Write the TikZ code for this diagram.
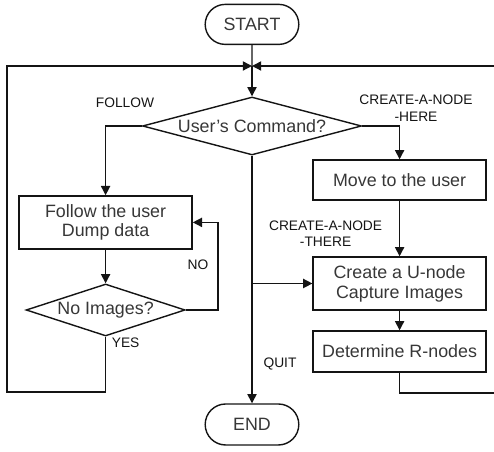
\documentclass[tikz,border=0pt]{standalone}
\usepackage{fontspec}
\setmainfont{Liberation Sans}
\definecolor{boxtext}{RGB}{55, 55, 55}
\definecolor{flowblack}{RGB}{20, 20, 20}
\usetikzlibrary{shapes.geometric, shapes.misc, arrows.meta, positioning, calc}
\tikzset{
  flowline/.style={line width=1pt, draw=flowblack},
  flowarrow/.style={flowline, -{Triangle[length=0.23cm, width=0.23cm]}},
  terminal/.style={rounded rectangle, draw=flowblack, line width=1pt, minimum width=2.575cm,
    minimum height=1cm, font=\fontsize{12.7}{14.2}\selectfont, text=boxtext},
  process/.style={rectangle, draw=flowblack, line width=1pt, minimum width=4.325cm, align=center,
    font=\fontsize{12.7}{14.2}\selectfont, text=boxtext},
  decision/.style={diamond, draw=flowblack, line width=1pt, inner sep=0pt,
    font=\fontsize{12.7}{14.2}\selectfont, text=boxtext},
  tag/.style={font=\fontsize{9.8}{11.7}\selectfont, align=center, text=flowblack}
}

\begin{document}
\begin{tikzpicture}
          \useasboundingbox (0, 0) rectangle (12.35, 11.3);
          % main column
          \node[terminal] (start) at (6.3, 10.69) {START};
          \coordinate (merge) at (6.3, 9.65);
          \node[decision, aspect=3.78, minimum width=5.475cm, minimum height=1.45cm] (cmd) at (6.3, 8.15) {User's Command?};
          \node[terminal, minimum height=1.025cm] (finish) at (6.3, 0.6875) {END};
          % left column
          \node[process, minimum height=1.325cm] (follow) at (2.64, 5.74) {Follow the user\\Dump data};
          \node[decision, aspect=3.06, minimum width=3.975cm, minimum height=1.3cm] (noimg) at (2.64, 3.55) {No Images?};
          % right column
          \node[process, minimum height=1cm] (move) at (9.99, 6.8) {Move to the user};
          \node[process, minimum height=1.325cm] (create) at (9.99, 4.2125) {Create a U-node\\Capture Images};
          \node[process, minimum height=1.025cm] (determine) at (9.99, 2.5125) {Determine R-nodes};
          % corners of the loops
          \coordinate (noloop) at (5.45, 5.74);
          \coordinate (yescorner) at (0.175, 1.5);
          \coordinate (backcorner) at (12.55, 1.475);

          \draw[flowline] (start) -- (merge);
          \draw[flowarrow] (merge) -- (cmd);
          \draw[flowarrow] (cmd.west) -| (follow.north);
          \draw[flowarrow] (follow) -- (noimg);
          \draw[flowarrow] (noimg.east) -| (noloop) -- (follow.east);
          \draw[flowarrow] (noimg.south) |- (yescorner) |- (merge);
          \draw[flowarrow] (cmd.south) -- (finish.north);
          \draw[flowarrow] (cmd.south |- create.west) -- (create.west);
          \draw[flowarrow] (cmd.east) -| (move.north);
          \draw[flowarrow] (move) -- (create);
          \draw[flowarrow] (create) -- (determine);
          \draw[flowarrow] (determine.south) |- (backcorner) |- (merge);

          \node[tag] at (3.125, 8.725) {FOLLOW};
          \node[tag] at (10.4, 8.59) {CREATE-A-NODE\\-HERE};
          \node[tag] at (8.14, 5.46) {CREATE-A-NODE\\-THERE};
          \node[tag] at (4.95, 4.675) {NO};
          \node[tag] at (3.14, 2.725) {YES};
          \node[tag] at (7.0, 2.2) {QUIT};
        \end{tikzpicture}
\end{document}
